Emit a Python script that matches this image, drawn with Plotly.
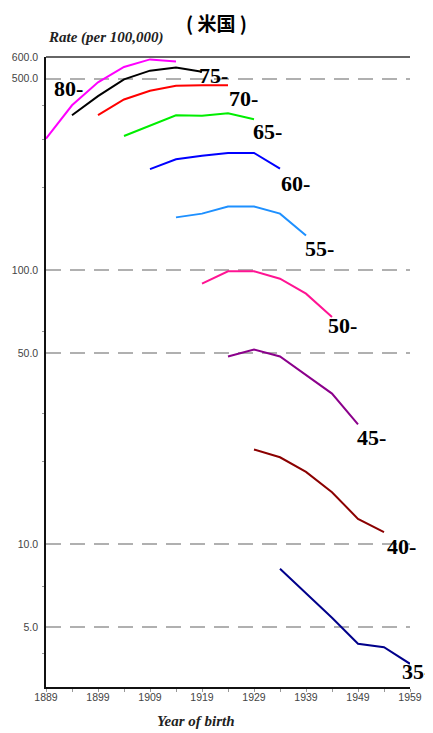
import math
import plotly.graph_objects as go

# ---- data ----
age_groups = ["80-", "75-", "70-", "65-", "60-", "55-", "50-", "45-", "40-", "35-"]
start_years = [1889, 1894, 1899, 1904, 1909, 1914, 1919, 1924, 1929, 1934]
rate_80 = [302, 400, 485, 552, 588, 578]
rate_75 = [368, 432, 497, 535, 549, 530]
rate_70 = [368, 420, 452, 471, 473, 473]
rate_65 = [309, 337, 368, 366, 374, 356]
rate_60 = [234, 254, 262, 268, 268, 235]
rate_55 = [156, 161, 171, 171, 161, 134]
rate_50 = [89.4, 99.2, 99.2, 93.2, 82.2, 67.6]
rate_45 = [48.5, 51.4, 48.5, 41.5, 35.5, 27.4]
rate_40 = [22.2, 20.8, 18.4, 15.5, 12.4, 11.1]
rate_35 = [8.15, 6.65, 5.4, 4.34, 4.22, 3.67]
rates = [rate_80, rate_75, rate_70, rate_65, rate_60, rate_55, rate_50, rate_45, rate_40, rate_35]
x_tick_labels = ["1889", "1899", "1909", "1919", "1929", "1939", "1949", "1959"]
y_tick_values = [5, 10, 50, 100, 500, 600]
y_tick_labels = ["5.0", "10.0", "50.0", "100.0", "500.0", "600.0"]

# ---- styles ----
colors = ["#ff00ff", "#000000", "#ff0000", "#00ee00", "#0000ff",
          "#1e90ff", "#ff1493", "#8b008b", "#8b0000", "#00008b"]
# label anchor: ("first"/"last", xshift, yshift)
label_pos = [("first", 6, 50), ("last", -5, -4), ("last", -1, -13), ("last", -3, -12),
             ("last", -1, -15), ("last", -3, -13), ("last", -6, -9), ("last", -3, -13),
             ("last", 1, -14), ("last", -10, -8)]

# the page body adds an 8px offset, so the figure is sized to fit the window
OFF = 8
W, H = 433 - OFF, 733 - OFF
ML, MR, MT, MB = 46 - OFF, 23, 57 - OFF, 46
pw, ph = W - ML - MR, H - MT - MB


def px_to_paper(px, py):
    return ((px - OFF) - ML) / pw, 1 - ((py - OFF) - MT) / ph


fig = go.Figure()
annotations = []
for name, y0, vals, col, lp in zip(age_groups, start_years, rates, colors, label_pos):
    xs = [y0 + 5 * i for i in range(len(vals))]
    fig.add_trace(go.Scatter(x=xs, y=vals, mode="lines", name=name,
                             line=dict(color=col, width=2), showlegend=False))
    idx = 0 if lp[0] == "first" else -1
    annotations.append(dict(x=xs[idx], y=math.log10(vals[idx]), xref="x", yref="y",
                            text=name, showarrow=False, xanchor="left", yanchor="middle",
                            xshift=lp[1], yshift=lp[2],
                            font=dict(family="Liberation Serif", size=22, color="black",
                                      weight="bold")))

ax, ay = px_to_paper(46, 37)
annotations.append(dict(x=ax, y=ay, xref="paper", yref="paper", text="Rate (per 100,000)",
                        showarrow=False, xanchor="left", yanchor="middle",
                        font=dict(family="Liberation Serif", size=15, color="#222",
                                  style="italic", weight="bold")))
bx, by = px_to_paper(196, 721)
annotations.append(dict(x=bx, y=by, xref="paper", yref="paper", text="Year of birth",
                        showarrow=False, xanchor="center", yanchor="middle",
                        font=dict(family="Liberation Serif", size=15, color="#222",
                                  style="italic", weight="bold")))
tx, ty = px_to_paper(216, 23)
annotations.append(dict(x=tx, y=ty, xref="paper", yref="paper", text="( 米国 )",
                        showarrow=False, xanchor="center", yanchor="middle",
                        font=dict(family="Noto Sans CJK JP", size=19, color="black",
                                  weight="bold")))

fig.update_layout(
    width=W, height=H,
    margin=dict(l=ML, r=MR, t=MT, b=MB, autoexpand=False),
    plot_bgcolor="white", paper_bgcolor="white",
    annotations=annotations,
    xaxis=dict(range=[1889, 1959], tickmode="array",
               tickvals=[int(t) for t in x_tick_labels], ticktext=x_tick_labels,
               showgrid=False, zeroline=False, showline=True, linecolor="#111", linewidth=1.5,
               ticks="", automargin=False,
               minor=dict(dtick=5, tick0=1889, ticks="outside", ticklen=3, tickcolor="#999"),
               tickfont=dict(family="Liberation Sans", size=10.5, color="#444")),
    yaxis=dict(type="log", range=[0.480, math.log10(600)], tickmode="array",
               tickvals=y_tick_values, ticktext=y_tick_labels, automargin=False,
               showgrid=True, gridcolor="#b0b0b0", gridwidth=1.5, griddash="15px,9px",
               zeroline=False, showline=True, linecolor="#111", linewidth=1.5,
               ticks="", ticklabelstandoff=4,
               minor=dict(tickvals=[4, 7, 20, 30, 60, 200, 300, 400], ticks="outside",
                          ticklen=2, tickcolor="#999", showgrid=False),
               tickfont=dict(family="Liberation Sans", size=10.5, color="#444")),
    shapes=[dict(type="line", xref="paper", yref="paper", x0=0, x1=1, y0=1, y1=1,
                 line=dict(color="#333", width=1.5))],
)

fig.write_html("out.html")
